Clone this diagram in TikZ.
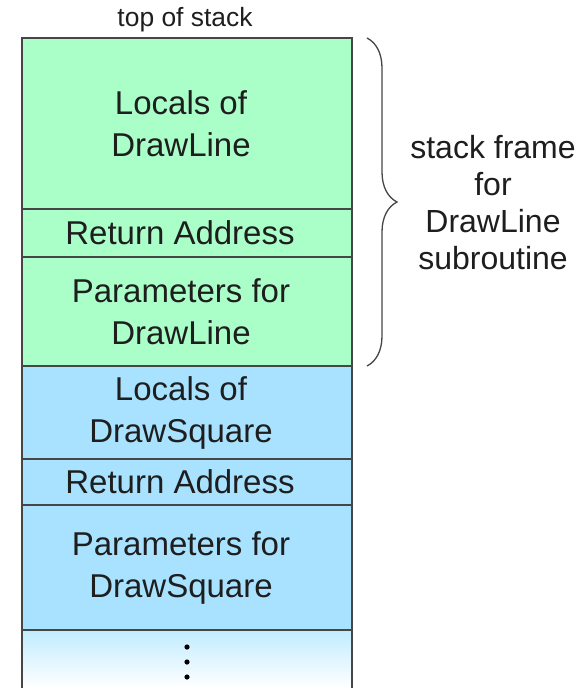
\documentclass[tikz,border=0pt]{standalone}
\usepackage{fontspec}
\setmainfont{Liberation Sans}
\usetikzlibrary{decorations.pathreplacing}
\definecolor{stackgreen}{RGB}{170,255,200}
\definecolor{stackblue}{RGB}{168,226,255}
\definecolor{fadeblue}{RGB}{192,236,255}
\definecolor{edgegray}{RGB}{70,70,70}
\definecolor{textgray}{RGB}{30,30,30}
\tikzset{
  cell/.style={draw=edgegray, line width=1.6pt, minimum width=330pt, inner sep=0pt, outer sep=0pt},
  greencell/.style={cell, fill=stackgreen},
  bluecell/.style={cell, fill=stackblue},
  celltext/.style={align=center, text=textgray, inner sep=0pt, font=\fontsize{33}{42}\selectfont},
  sidelabel/.style={align=center, text=textgray, font=\fontsize{32}{37}\selectfont},
  toplabel/.style={text=textgray, font=\fontsize{26.4}{30}\selectfont},
  framebrace/.style={draw=edgegray, line width=1.3pt, decorate, decoration={brace, amplitude=30pt}},
  dotmark/.style={fill=black, draw=none}
}
\begin{document}
\begin{tikzpicture}[x=1pt, y=-1pt]
\useasboundingbox (0,0) rectangle (577,688);
% bottom fading cell
\shade[top color=fadeblue, bottom color=white] (22,630) rectangle (352,688);
\draw[draw=edgegray, line width=1.6pt] (22,630) -- (22,688) (352,630) -- (352,688);
\fill[dotmark] (187,647) circle (2.6pt);
\fill[dotmark] (187,662) circle (2.6pt);
\fill[dotmark] (187,677) circle (2.6pt);
% stack cells
\node[greencell, minimum height=171pt] (l1) at (187,123.5) {};
\node[greencell, minimum height=48pt] (r1) at (187,233) {};
\node[greencell, minimum height=109pt] (p1) at (187,311.5) {};
\node[bluecell, minimum height=93pt] (l2) at (187,412.5) {};
\node[bluecell, minimum height=46pt] (r2) at (187,482) {};
\node[bluecell, minimum height=125pt] (p2) at (187,567.5) {};
% cell texts
\node[celltext] (tl1) at ([xshift=-6pt]l1.center) {Locals of\\DrawLine};
\node[celltext] (tr1) at ([xshift=-7pt]r1.center) {Return Address};
\node[celltext] (tp1) at ([xshift=-6pt]p1.center) {Parameters for\\DrawLine};
\node[celltext] (tl2) at ([xshift=-6pt]l2.center) {Locals of\\DrawSquare};
\node[celltext] (tr2) at ([xshift=-7pt]r2.center) {Return Address};
\node[celltext] (tp2) at ([xshift=-6pt]p2.center) {Parameters for\\DrawSquare};
% labels
\node[toplabel] (top) at (185,20) {top of stack};
\coordinate (bt) at (367,38);
\coordinate (bb) at (367,366);
\draw[framebrace] (bt) -- (bb);
\node[sidelabel] (frame) at (493,203) {stack frame\\for\\DrawLine\\subroutine};
\end{tikzpicture}
\end{document}
